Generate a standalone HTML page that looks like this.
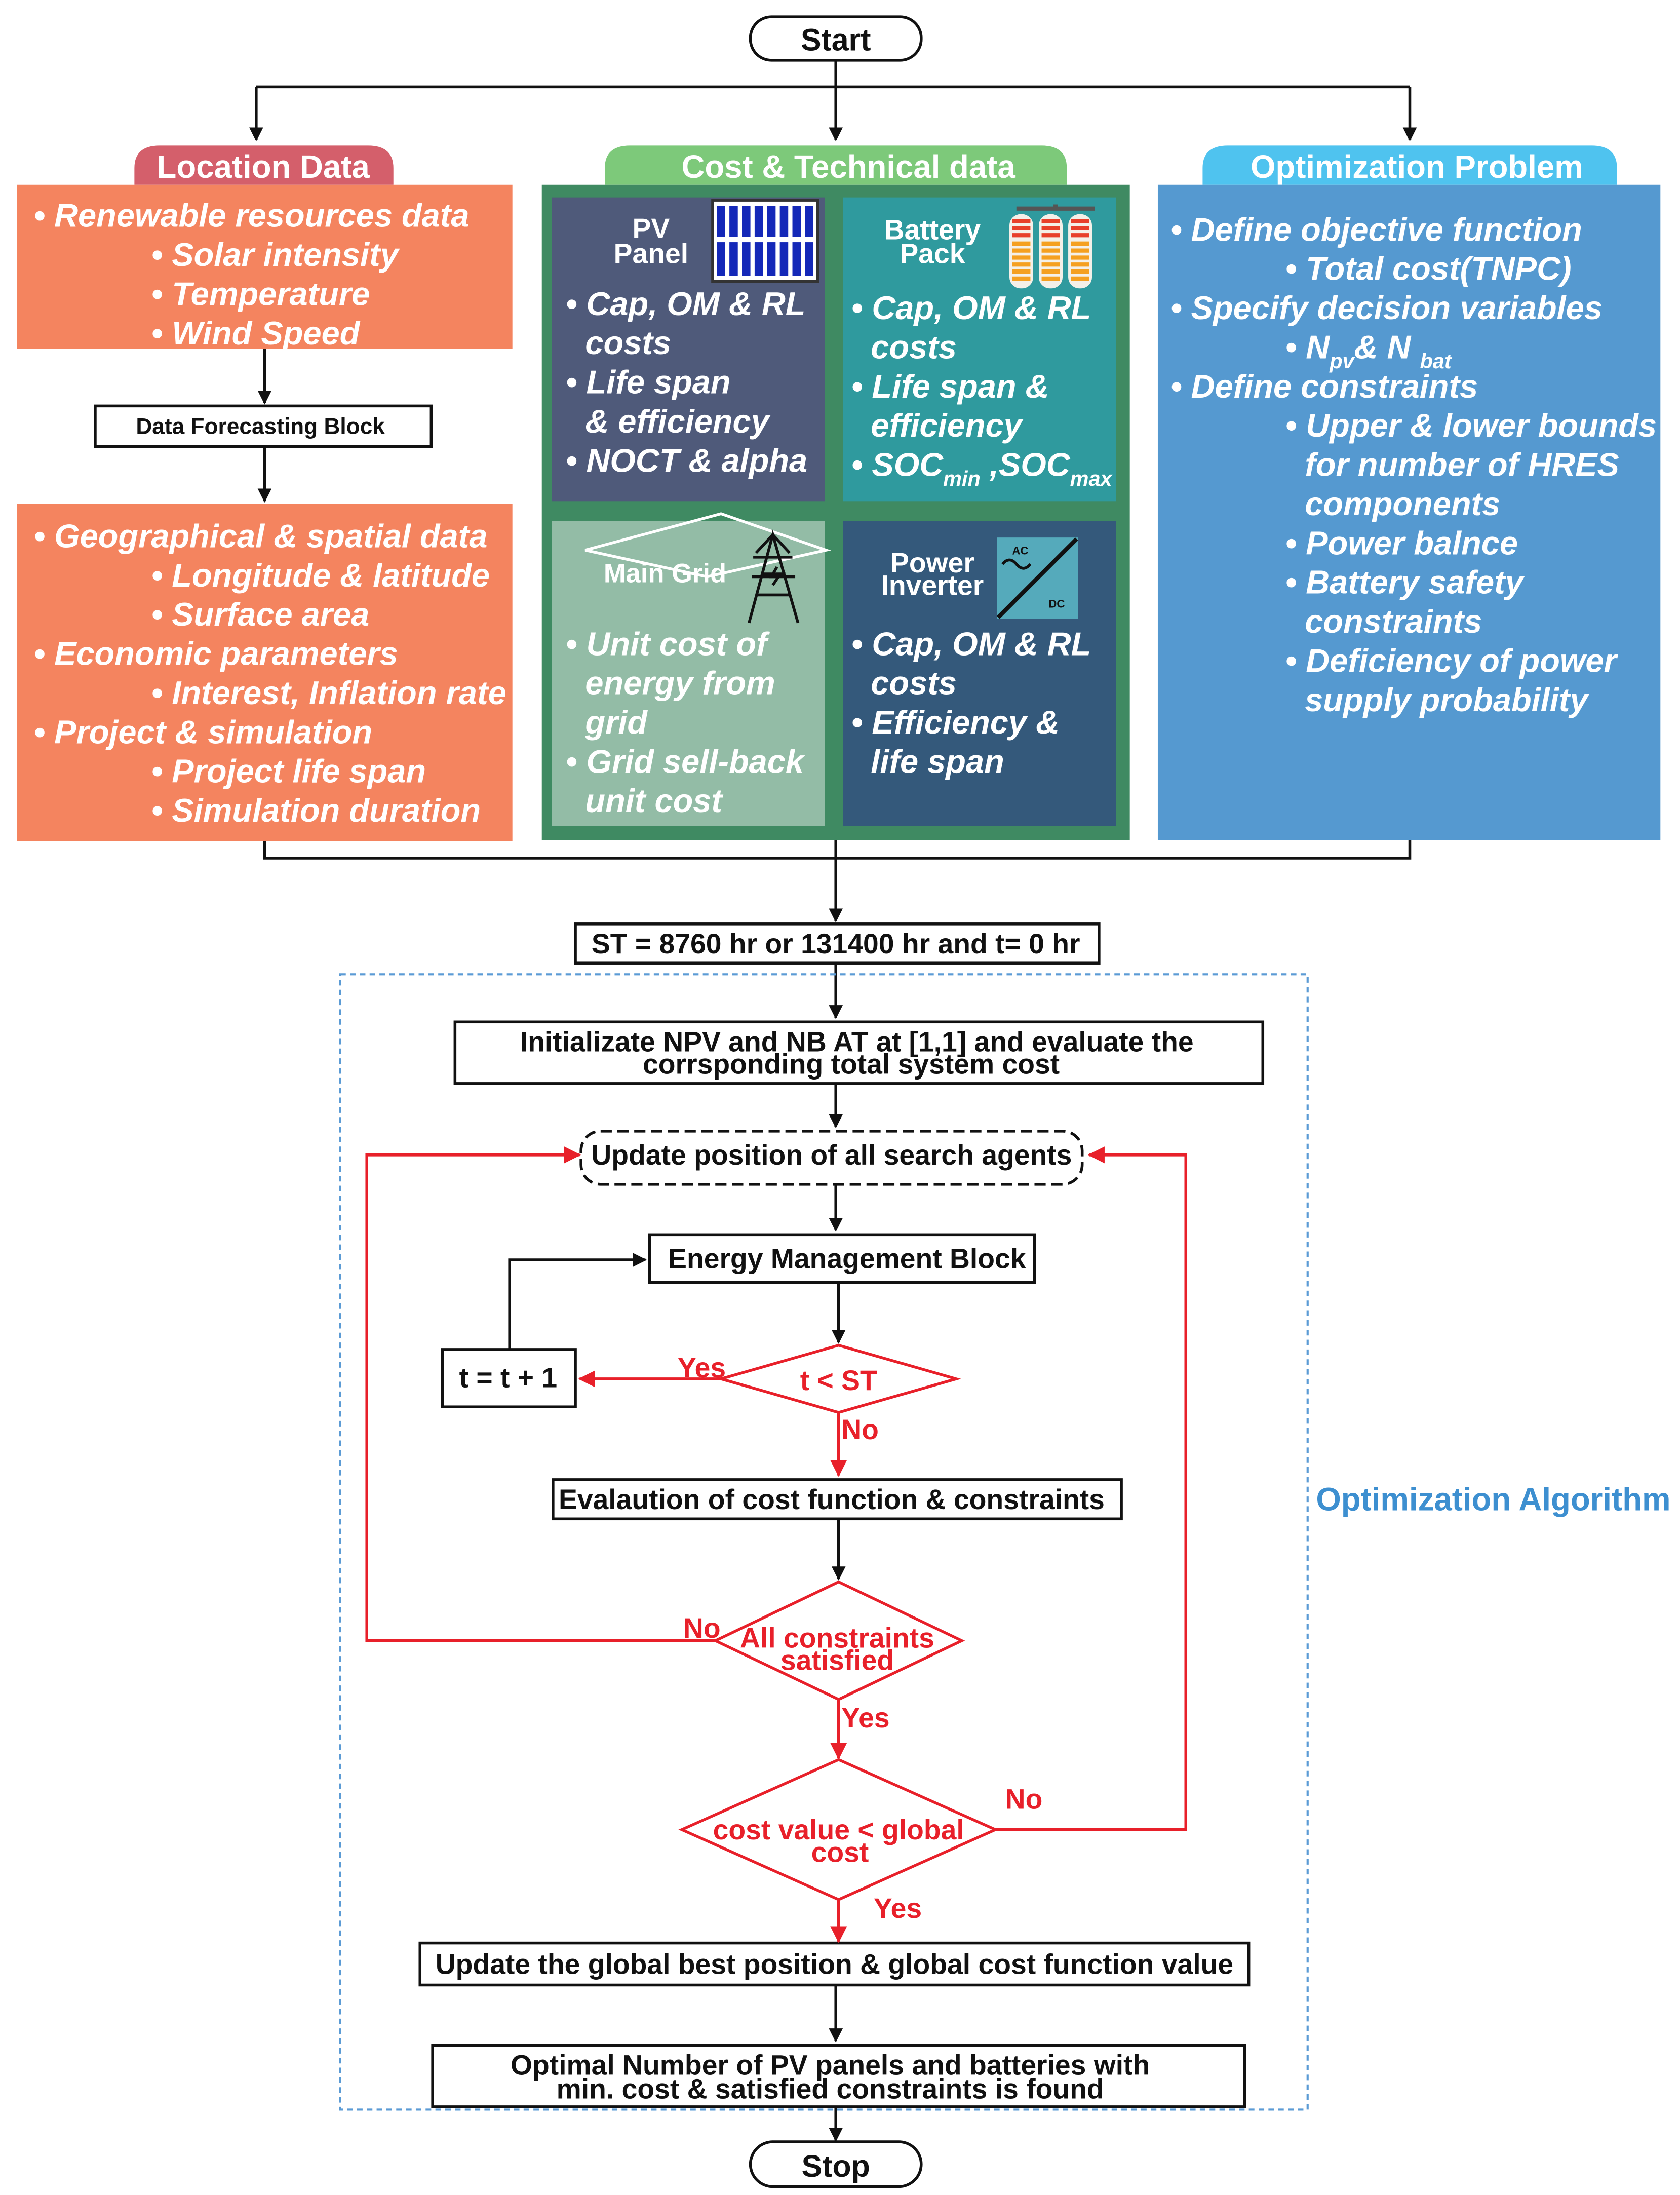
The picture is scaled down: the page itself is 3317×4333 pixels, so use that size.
<!DOCTYPE html>
<html><head><meta charset="utf-8"><style>
html,body{margin:0;padding:0;background:#fff}
svg{display:block}
text{font-family:"Liberation Sans",sans-serif}
.w{fill:#fff;font-weight:bold;font-style:italic;font-size:23.5px}
.b{font-weight:bold;font-size:20px;fill:#111}
.r{fill:#e8202a;font-weight:bold;font-size:20px}
.t{fill:#fff;font-weight:bold;font-size:23px}
</style></head><body>
<svg width="3317" height="4333" viewBox="0 0 1200 1568" preserveAspectRatio="none" xmlns="http://www.w3.org/2000/svg">
<defs>
<marker id="ak" markerWidth="10" markerHeight="10" refX="9" refY="5" orient="auto" markerUnits="userSpaceOnUse" viewBox="0 0 10 10"><path d="M0,0 L10,5 L0,10 z" fill="#111"/></marker>
<marker id="ar" markerWidth="12" markerHeight="12" refX="11" refY="6" orient="auto" markerUnits="userSpaceOnUse" viewBox="0 0 12 12"><path d="M0,0 L12,6 L0,12 z" fill="#e8202a"/></marker>
</defs>
<g stroke="#111" stroke-width="2" fill="none">
<rect x="536" y="12" width="122" height="31" rx="15" fill="#fff"/>
<line x1="597" y1="43" x2="597" y2="62"/>
<line x1="183" y1="62" x2="1007" y2="62"/>
<line x1="183" y1="62" x2="183" y2="100" marker-end="url(#ak)"/>
<line x1="597" y1="62" x2="597" y2="100" marker-end="url(#ak)"/>
<line x1="1007" y1="62" x2="1007" y2="100" marker-end="url(#ak)"/>
</g>
<text x="597" y="36" text-anchor="middle" class="b" style="font-size:22px">Start</text>
<!-- Location -->
<path d="M96,132 L96,120 Q96,104 114,104 L263,104 Q281,104 281,120 L281,132 z" fill="#d45f6b"/>
<text x="188" y="127" text-anchor="middle" class="t">Location Data</text>
<rect x="12" y="132" width="354" height="117" fill="#f4845f"/>
<text class="w" x="24" y="162">• Renewable resources data</text>
<text class="w" x="108" y="190">• Solar intensity</text>
<text class="w" x="108" y="218">• Temperature</text>
<text class="w" x="108" y="246">• Wind Speed</text>
<g stroke="#111" stroke-width="2" fill="none">
<line x1="189" y1="249" x2="189" y2="288" marker-end="url(#ak)"/>
<rect x="68" y="290" width="240" height="29" fill="#fff"/>
<line x1="189" y1="319" x2="189" y2="358" marker-end="url(#ak)"/>
</g>
<text x="186" y="310" text-anchor="middle" class="b" style="font-size:16px">Data Forecasting Block</text>
<rect x="12" y="360" width="354" height="241" fill="#f4845f"/>
<text class="w" x="24" y="391">• Geographical &amp; spatial data</text>
<text class="w" x="108" y="419">• Longitude &amp; latitude</text>
<text class="w" x="108" y="447">• Surface area</text>
<text class="w" x="24" y="475">• Economic parameters</text>
<text class="w" x="108" y="503">• Interest, Inflation rate</text>
<text class="w" x="24" y="531">• Project &amp; simulation</text>
<text class="w" x="108" y="559">• Project life span</text>
<text class="w" x="108" y="587">• Simulation duration</text>
<!-- Cost -->
<path d="M432,132 L432,120 Q432,104 450,104 L744,104 Q762,104 762,120 L762,132 z" fill="#7dc97a"/>
<text x="606" y="127" text-anchor="middle" class="t">Cost &amp; Technical data</text>
<rect x="387" y="132" width="420" height="468" fill="#3f8a62"/>
<rect x="394" y="141" width="195" height="217" fill="#4f5a7a"/>
<rect x="602" y="141" width="195" height="217" fill="#2f9a9e"/>
<rect x="394" y="372" width="195" height="218" fill="#93bca6"/>
<rect x="602" y="372" width="195" height="218" fill="#34597b"/>
<text class="t" x="465" y="170" text-anchor="middle" style="font-size:20px">PV</text>
<text class="t" x="465" y="188" text-anchor="middle" style="font-size:20px">Panel</text>
<rect x="509" y="143" width="75" height="58" fill="#fff" stroke="#333" stroke-width="2"/>
<g fill="#1428b8">
<rect x="512" y="147" width="6" height="22"/><rect x="521" y="147" width="6" height="22"/><rect x="530" y="147" width="6" height="22"/><rect x="539" y="147" width="6" height="22"/><rect x="548" y="147" width="6" height="22"/><rect x="557" y="147" width="6" height="22"/><rect x="566" y="147" width="6" height="22"/><rect x="575" y="147" width="6" height="22"/>
<rect x="512" y="173" width="6" height="24"/><rect x="521" y="173" width="6" height="24"/><rect x="530" y="173" width="6" height="24"/><rect x="539" y="173" width="6" height="24"/><rect x="548" y="173" width="6" height="24"/><rect x="557" y="173" width="6" height="24"/><rect x="566" y="173" width="6" height="24"/><rect x="575" y="173" width="6" height="24"/>
</g>
<text class="w" x="404" y="225">• Cap, OM &amp; RL</text>
<text class="w" x="418" y="253">costs</text>
<text class="w" x="404" y="281">• Life span</text>
<text class="w" x="418" y="309">&amp; efficiency</text>
<text class="w" x="404" y="337">• NOCT &amp; alpha</text>
<text class="t" x="666" y="171" text-anchor="middle" style="font-size:20px">Battery</text>
<text class="t" x="666" y="188" text-anchor="middle" style="font-size:20px">Pack</text>
<path d="M726,149 H782 M754,146 V149" stroke="#555" stroke-width="3"/>
<g>
<rect x="721" y="153" width="17" height="53" rx="8" fill="#f4f0e8"/>
<rect x="742" y="153" width="17" height="53" rx="8" fill="#f4f0e8"/>
<rect x="763" y="153" width="17" height="53" rx="8" fill="#f4f0e8"/>
<g stroke-width="3">
<path d="M723,158H736M723,163H736M723,168H736M744,158H757M744,163H757M744,168H757M765,158H778M765,163H778M765,168H778" stroke="#e8402a"/>
<path d="M723,174H736M723,179H736M723,184H736M723,189H736M723,194H736M723,199H736M744,174H757M744,179H757M744,184H757M744,189H757M744,194H757M744,199H757M765,174H778M765,179H778M765,184H778M765,189H778M765,194H778M765,199H778" stroke="#f5a020"/>
</g></g>
<text class="w" x="608" y="228">• Cap, OM &amp; RL</text>
<text class="w" x="622" y="256">costs</text>
<text class="w" x="608" y="284">• Life span &amp;</text>
<text class="w" x="622" y="312">efficiency</text>
<text class="w" x="608" y="340">• SOC<tspan style="font-size:15px" dy="7">min</tspan><tspan dy="-7"> ,SOC</tspan><tspan style="font-size:15px" dy="7">max</tspan></text>
<path d="M418,393 L515,367 L590,393 L505,412 z" fill="none" stroke="#fff" stroke-width="2"/>
<text class="t" x="475" y="416" text-anchor="middle" style="font-size:19px">Main Grid</text>
<g stroke="#111" stroke-width="2" fill="none">
<path d="M535,445 L552,382 L570,445 M540,425 H565 M544,410 H561 M546,398 H559 M538,398 H566 M537,412 H568 M540,395 L552,382 L564,395"/>
<path d="M555,405 L551,412 L556,412 L552,418"/>
</g>
<text class="w" x="404" y="468">• Unit cost of</text>
<text class="w" x="418" y="496">energy from</text>
<text class="w" x="418" y="524">grid</text>
<text class="w" x="404" y="552">• Grid sell-back</text>
<text class="w" x="418" y="580">unit cost</text>
<text class="t" x="666" y="409" text-anchor="middle" style="font-size:20px">Power</text>
<text class="t" x="666" y="425" text-anchor="middle" style="font-size:20px">Inverter</text>
<rect x="712" y="384" width="58" height="58" fill="#55aabb"/>
<line x1="713" y1="441" x2="769" y2="385" stroke="#111" stroke-width="3"/>
<text x="723" y="396" style="font-size:8px;fill:#111;font-weight:bold">AC</text>
<path d="M716,403 q5,-6 10,0 t10,0" stroke="#111" stroke-width="2" fill="none"/>
<text x="749" y="434" style="font-size:8px;fill:#111;font-weight:bold">DC</text>
<text class="w" x="608" y="468">• Cap, OM &amp; RL</text>
<text class="w" x="622" y="496">costs</text>
<text class="w" x="608" y="524">• Efficiency &amp;</text>
<text class="w" x="622" y="552">life span</text>
<!-- Optimization problem -->
<path d="M859,132 L859,120 Q859,104 877,104 L1137,104 Q1155,104 1155,120 L1155,132 z" fill="#4fc3ef"/>
<text x="1012" y="127" text-anchor="middle" class="t">Optimization Problem</text>
<rect x="827" y="132" width="359" height="468" fill="#5599d0"/>
<text class="w" x="836" y="172">• Define objective function</text>
<text class="w" x="918" y="200">• Total cost(TNPC)</text>
<text class="w" x="836" y="228">• Specify decision variables</text>
<text class="w" x="918" y="256">• N<tspan style="font-size:15px" dy="7">pv</tspan><tspan dy="-7">&amp; N </tspan><tspan style="font-size:15px" dy="7">bat</tspan></text>
<text class="w" x="836" y="284">• Define constraints</text>
<text class="w" x="918" y="312">• Upper &amp; lower bounds</text>
<text class="w" x="932" y="340">for number of HRES</text>
<text class="w" x="932" y="368">components</text>
<text class="w" x="918" y="396">• Power balnce</text>
<text class="w" x="918" y="424">• Battery safety</text>
<text class="w" x="932" y="452">constraints</text>
<text class="w" x="918" y="480">• Deficiency of power</text>
<text class="w" x="932" y="508">supply  probability</text>
<!-- lower flow -->
<g stroke="#111" stroke-width="2" fill="none">
<path d="M189,601 V613 H1007 V600"/>
<line x1="597" y1="600" x2="597" y2="658" marker-end="url(#ak)"/>
<rect x="411" y="660" width="374" height="28" fill="#fff"/>
<line x1="597" y1="688" x2="597" y2="727" marker-end="url(#ak)"/>
<rect x="325" y="730" width="577" height="44" fill="#fff"/>
<line x1="597" y1="774" x2="597" y2="805" marker-end="url(#ak)"/>
<rect x="415" y="808" width="358" height="38" rx="14" fill="#fff" stroke-dasharray="8,4"/>
<line x1="597" y1="846" x2="597" y2="879" marker-end="url(#ak)"/>
<rect x="464" y="882" width="275" height="34" fill="#fff"/>
<line x1="599" y1="916" x2="599" y2="959" marker-end="url(#ak)"/>
<rect x="316" y="964" width="95" height="41" fill="#fff"/>
<path d="M364,964 V900 H461" marker-end="url(#ak)"/>
<rect x="395" y="1057" width="406" height="28" fill="#fff"/>
<line x1="599" y1="1085" x2="599" y2="1128" marker-end="url(#ak)"/>
<rect x="300" y="1388" width="592" height="30" fill="#fff"/>
<line x1="597" y1="1418" x2="597" y2="1458" marker-end="url(#ak)"/>
<rect x="309" y="1461" width="580" height="44" fill="#fff"/>
<line x1="597" y1="1505" x2="597" y2="1529" marker-end="url(#ak)"/>
<rect x="536" y="1530" width="122" height="32" rx="16" fill="#fff"/>
</g>
<rect x="243" y="696" width="691" height="811" fill="none" stroke="#5b9bd5" stroke-width="1.5" stroke-dasharray="4,3"/>
<text x="597" y="681" text-anchor="middle" class="b">ST = 8760 hr or 131400 hr and t= 0 hr</text>
<text x="612" y="751" text-anchor="middle" class="b">Initializate NPV and NB AT at [1,1] and evaluate the</text>
<text x="608" y="767" text-anchor="middle" class="b">corrsponding total system cost</text>
<text x="594" y="832" text-anchor="middle" class="b">Update position of all search agents</text>
<text x="605" y="906" text-anchor="middle" class="b">Energy Management Block</text>
<text x="363" y="991" text-anchor="middle" class="b">t = t + 1</text>
<text x="594" y="1078" text-anchor="middle" class="b">Evalaution of cost function &amp; constraints</text>
<text x="596" y="1410" text-anchor="middle" class="b">Update the global best position &amp; global cost function value</text>
<text x="593" y="1482" text-anchor="middle" class="b">Optimal Number of PV panels and batteries with</text>
<text x="593" y="1499" text-anchor="middle" class="b">min. cost &amp; satisfied constraints is found</text>
<text x="597" y="1555" text-anchor="middle" class="b" style="font-size:22px">Stop</text>
<!-- red -->
<g stroke="#e8202a" stroke-width="2" fill="none">
<polygon points="515,985 599,961 683,985 599,1009" fill="#fff"/>
<line x1="515" y1="985" x2="414" y2="985" marker-end="url(#ar)"/>
<line x1="599" y1="1009" x2="599" y2="1054" marker-end="url(#ar)"/>
<polygon points="511,1172 599,1130 687,1172 599,1214" fill="#fff"/>
<path d="M511,1172 H262 V825 H414" marker-end="url(#ar)"/>
<line x1="599" y1="1214" x2="599" y2="1256" marker-end="url(#ar)"/>
<polygon points="487,1307 599,1257 711,1307 599,1357" fill="#fff"/>
<path d="M711,1307 H847 V825 H778" marker-end="url(#ar)"/>
<line x1="599" y1="1357" x2="599" y2="1387" marker-end="url(#ar)"/>
</g>
<text x="599" y="993" text-anchor="middle" class="r">t &lt; ST</text>
<text x="484" y="984" class="r">Yes</text>
<text x="601" y="1028" class="r">No</text>
<text x="598" y="1177" text-anchor="middle" class="r">All constraints</text>
<text x="598" y="1193" text-anchor="middle" class="r">satisfied</text>
<text x="488" y="1170" class="r">No</text>
<text x="601" y="1234" class="r">Yes</text>
<text x="599" y="1314" text-anchor="middle" class="r">cost value &lt; global</text>
<text x="600" y="1330" text-anchor="middle" class="r">cost</text>
<text x="718" y="1292" class="r">No</text>
<text x="624" y="1370" class="r">Yes</text>
<text x="940" y="1079" style="fill:#3d8fd0;font-weight:bold;font-size:23px">Optimization Algorithm</text>
</svg>
</body></html>
